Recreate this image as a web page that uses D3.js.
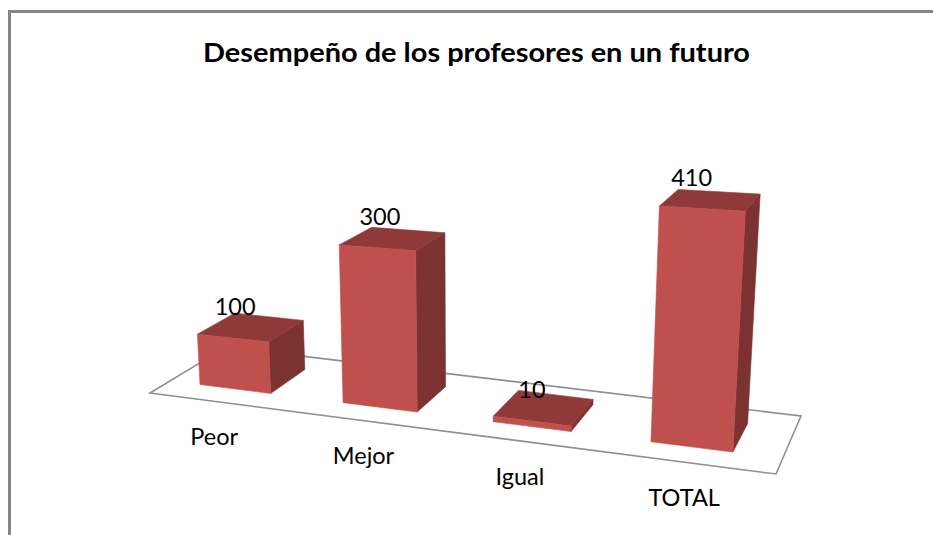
<!DOCTYPE html>
<html>
<head>
<meta charset="utf-8">
<script src="https://cdn.jsdelivr.net/npm/d3@7/dist/d3.min.js"></script>
<style>
html,body{margin:0;padding:0;background:#fff;overflow:hidden}
text{font-family:Lato,"Open Sans",sans-serif;fill:#000}
</style>
</head>
<body>
<svg id="c" width="933" height="535"></svg>
<script>
const categories = ["Peor", "Mejor", "Igual", "TOTAL"];
const values = [100, 300, 10, 410];
const chartTitle = "Desempeño de los profesores en un futuro";

const W = 933, H = 535;
const svg = d3.select("#c");

// frame
svg.append("path")
  .attr("d", d3.line()([[9.5, H], [9.5, 11.5], [W, 11.5]]))
  .attr("fill", "none").attr("stroke", "#868686").attr("stroke-width", 3);

// title
svg.append("text").attr("x", 476.5).attr("y", 62)
  .attr("text-anchor", "middle").attr("font-size", 27).attr("font-weight", 700)
  .attr("textLength", 547).attr("lengthAdjust", "spacingAndGlyphs")
  .text(chartTitle);

// floor homography: unit square (u along categories, v in depth) -> screen
const floor = [[150, 393], [776, 474], [801, 416], [226, 347]];
const [p0, p1, p2, p3] = floor;
const dx1 = p1[0] - p2[0], dx2 = p3[0] - p2[0], sx = p0[0] - p1[0] + p2[0] - p3[0];
const dy1 = p1[1] - p2[1], dy2 = p3[1] - p2[1], sy = p0[1] - p1[1] + p2[1] - p3[1];
const den = dx1 * dy2 - dx2 * dy1;
const g = (sx * dy2 - dx2 * sy) / den, hh = (dx1 * sy - sx * dy1) / den;
const a = p1[0] - p0[0] + g * p1[0], b = p3[0] - p0[0] + hh * p3[0];
const d = p1[1] - p0[1] + g * p1[1], e = p3[1] - p0[1] + hh * p3[1];

const xBand = d3.scaleBand().domain(categories).range([-0.009, 0.988]).paddingInner(0.5).paddingOuter(0.25);
const zBand = d3.scaleBand().domain(["s"]).range([0, 1]).padding(1 / 3);
const yScale = d3.scaleLinear().domain([0, 410]).range([0, 410]);
const unitPx = d3.scaleLinear().domain([0, 1]).range([0.51, 0.552]);

function project(u, v, val) {
  const w = 1 + g * u + hh * v;
  const fx = (a * u + b * v + p0[0]) / w;
  const fy = (d * u + e * v + p0[1]) / w;
  const hpx = yScale(val) * unitPx(u) / w;
  return [fx + (fx - 467) * 0.000195 * hpx, fy - hpx];
}

const poly = pts => d3.line()(pts) + "Z";

// floor plane
svg.append("path").attr("d", poly(floor))
  .attr("fill", "#fff").attr("stroke", "#8f8f8f").attr("stroke-width", 1.6);

const bars = categories.map((c, i) => ({ c, v: values[i] }));
const v0 = zBand("s"), v1 = v0 + zBand.bandwidth();

const gBars = svg.append("g").selectAll("g").data(bars).join("g");
gBars.each(function (r) {
  const u0 = xBand(r.c), u1 = u0 + xBand.bandwidth();
  const s = d3.select(this);
  const face = (fill, pts) => s.append("path").attr("fill", fill).attr("stroke", fill)
    .attr("stroke-width", 0.6).attr("d", poly(pts));
  face("#7C3230", [project(u1, v0, 0), project(u1, v1, 0), project(u1, v1, r.v), project(u1, v0, r.v)]);
  face("#8F3A38", [project(u0, v0, r.v), project(u1, v0, r.v), project(u1, v1, r.v), project(u0, v1, r.v)]);
  face("#C0504D", [project(u0, v0, 0), project(u1, v0, 0), project(u1, v0, r.v), project(u0, v0, r.v)]);
});

// value labels
const valueFmt = d3.format("d");
svg.append("g").selectAll("text").data(bars).join("text")
  .attr("text-anchor", "middle").attr("font-size", 23.5)
  .attr("x", r => project(xBand(r.c) + xBand.bandwidth() / 2, v0, 0)[0])
  .attr("y", r => project(xBand(r.c) + xBand.bandwidth() / 2, v0, r.v)[1] - 23)
  .text(r => valueFmt(r.v));

// category labels
const lblDx = d3.scaleLinear().domain([0, 1]).range([-23, -5]);
const lblDy = d3.scaleLinear().domain([0, 1]).range([55, 60]);
svg.append("g").selectAll("text").data(bars).join("text")
  .attr("text-anchor", "middle").attr("font-size", 23.5)
  .attr("x", r => { const u = xBand(r.c) + xBand.bandwidth() / 2; return project(u, v0, 0)[0] + lblDx(u); })
  .attr("y", r => { const u = xBand(r.c) + xBand.bandwidth() / 2; return project(u, v0, 0)[1] + lblDy(u); })
  .text(r => r.c);
</script>
</body>
</html>
